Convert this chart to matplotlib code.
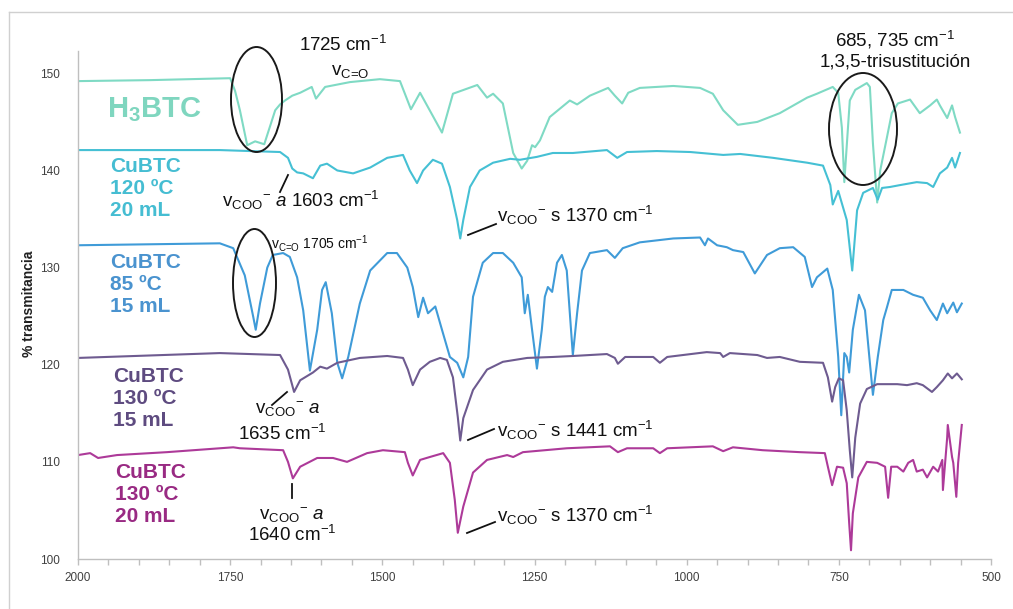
import matplotlib
matplotlib.use("Agg")
import matplotlib.pyplot as plt
from matplotlib.patches import Ellipse
from matplotlib.lines import Line2D
from matplotlib.ticker import MultipleLocator

plt.rcParams['font.family'] = ['Liberation Sans', 'DejaVu Sans']
plt.rcParams['mathtext.fontset'] = 'custom'
plt.rcParams['mathtext.rm'] = 'Liberation Sans'
plt.rcParams['mathtext.it'] = 'Liberation Sans:italic'
plt.rcParams['mathtext.bf'] = 'Liberation Sans:bold'

# ---------------- data (wavenumber cm-1, % transmittance, offset as plotted) -------------
h3btc_wn = [2000, 1882, 1750, 1742, 1734, 1722, 1709, 1694, 1676, 1668, 1660, 1648, 1635, 1616, 1609,
            1594, 1553, 1504, 1471, 1453, 1438, 1402, 1384, 1344, 1328, 1318, 1302, 1285, 1271, 1262,
            1254, 1249, 1241, 1225, 1192, 1180, 1159, 1129, 1118, 1106, 1096, 1077, 1022, 978,
            957, 940, 916, 884, 847, 802, 786, 760, 751, 745, 741, 732, 723, 704, 699, 694, 687,
            682, 671, 663, 653, 633, 617, 600, 589, 584, 572, 564, 559, 551]
h3btc_t = [149.2, 149.3, 149.5, 148.2, 146.2, 142.6, 143.0, 142.7, 146.2, 146.8, 147.2, 147.7, 148.0,
           148.6, 147.4, 148.6, 149.1, 149.4, 149.2, 146.3, 148.0, 143.9, 147.9, 148.8, 147.5, 147.9,
           146.9, 141.8, 140.2, 141.0, 142.6, 142.4, 143.1, 145.5, 147.2, 146.8, 147.7, 148.5, 147.7,
           146.9, 148.0, 148.5, 148.7, 148.5, 147.9, 146.2, 144.7, 145.0, 145.9, 147.5, 147.9, 148.6,
           148.0, 144.4, 138.8, 147.2, 148.3, 149.0, 148.6, 142.8, 136.7, 140.0, 143.4, 145.9, 146.9,
           147.3, 145.9, 146.7, 147.3, 146.7, 145.4, 146.7, 145.5, 143.9]

cu120_wn = [2000, 1767, 1668, 1655, 1648, 1640, 1630, 1614, 1602, 1591, 1574, 1548, 1520, 1492, 1466,
            1455, 1443, 1433, 1417, 1402, 1389, 1377, 1372, 1367, 1356, 1340, 1318, 1290, 1274, 1246,
            1220, 1187, 1131, 1114, 1098, 1049, 994, 940, 912, 858, 802, 776, 764, 760, 751, 737, 728,
            720, 710, 694, 686, 679, 666, 649, 622, 605, 595, 584, 572, 564, 559, 551]
cu120_t = [142.1, 142.1, 141.9, 141.3, 140.2, 139.8, 139.7, 139.2, 140.5, 140.7, 140.0, 139.7, 140.3,
           141.3, 141.6, 140.0, 138.7, 140.0, 141.1, 140.7, 138.3, 134.9, 133.0, 134.9, 138.3, 140.0,
           140.8, 141.2, 141.1, 141.4, 141.8, 141.8, 142.1, 141.3, 141.9, 142.0, 141.9, 141.6, 141.7,
           141.3, 140.8, 140.5, 138.5, 136.5, 137.9, 134.9, 129.7, 135.9, 137.7, 138.2, 137.0, 138.2,
           138.3, 138.5, 138.8, 138.7, 138.3, 139.7, 140.3, 141.3, 140.3, 141.8]

cu85_wn = [2000, 1767, 1745, 1726, 1712, 1708, 1701, 1689, 1680, 1663, 1652, 1640, 1630, 1619, 1607,
           1599, 1593, 1583, 1574, 1566, 1556, 1537, 1520, 1492, 1476, 1459, 1450, 1441, 1433, 1425,
           1413, 1402, 1389, 1377, 1367, 1359, 1351, 1335, 1318, 1302, 1285, 1271, 1266, 1261, 1254,
           1246, 1238, 1233, 1228, 1221, 1213, 1205, 1197, 1190, 1187, 1180, 1172, 1159, 1131, 1118,
           1105, 1077, 1022, 978, 970, 965, 950, 934, 924, 907, 888, 868, 847, 825, 806, 794, 786, 769,
           760, 751, 746, 741, 737, 733, 727, 717, 707, 699, 694, 686, 677, 671, 663, 644, 628, 612,
           600, 589, 579, 572, 562, 556, 548]
cu85_t = [132.3, 132.5, 132.0, 129.2, 124.9, 123.6, 126.3, 130.0, 131.3, 131.5, 131.1, 129.0, 125.6,
          119.4, 123.6, 127.7, 128.5, 125.3, 120.2, 118.6, 120.8, 126.3, 129.7, 131.5, 131.5, 130.0,
          128.0, 124.9, 126.9, 125.3, 126.0, 123.6, 120.8, 120.2, 118.7, 120.8, 127.0, 130.5, 131.5,
          131.5, 130.5, 129.0, 125.3, 127.2, 123.6, 119.6, 123.6, 127.0, 128.0, 127.5, 130.5, 131.3,
          129.7, 123.6, 121.0, 125.3, 129.7, 131.5, 131.8, 131.0, 132.0, 132.6, 133.0, 133.1, 132.3,
          133.0, 132.3, 132.1, 131.8, 131.6, 129.4, 131.3, 132.0, 132.1, 131.1, 128.0, 129.0, 129.9,
          127.7, 120.8, 114.8, 121.2, 120.8, 119.2, 123.6, 127.2, 125.6, 120.2, 116.9, 120.8, 124.6,
          125.9, 127.7, 127.7, 127.2, 126.9, 125.6, 124.6, 126.3, 125.3, 126.4, 125.4, 126.3]

cu130a_wn = [2000, 1767, 1668, 1655, 1645, 1635, 1614, 1602, 1591, 1574, 1537, 1492, 1466, 1458, 1450,
             1438, 1422, 1405, 1394, 1384, 1376, 1372, 1367, 1351, 1328, 1302, 1262, 1220, 1187, 1131,
             1118, 1113, 1101, 1055, 1044, 1032, 967, 945, 940, 929, 884, 868, 847, 814, 776, 768, 761,
             756, 750, 743, 737, 732, 728, 723, 715, 704, 687, 654, 638, 622, 612, 597, 589, 579, 571,
             564, 556, 548]
cu130a_t = [120.7, 121.2, 121.0, 119.5, 117.2, 118.4, 119.2, 119.8, 119.6, 120.2, 120.7, 120.9, 120.7,
            119.5, 117.9, 119.5, 120.3, 120.7, 120.5, 118.7, 114.6, 112.2, 114.5, 117.4, 119.5, 120.3,
            120.7, 120.8, 120.9, 121.1, 120.7, 120.1, 120.8, 120.8, 120.2, 120.8, 121.3, 121.2, 120.8,
            121.2, 121.0, 120.7, 120.8, 120.3, 120.2, 118.7, 116.2, 117.7, 118.6, 118.4, 115.3, 111.2,
            108.4, 112.5, 116.0, 117.5, 118.0, 118.0, 117.9, 118.1, 117.9, 117.2, 117.7, 118.4, 119.1,
            118.6, 119.1, 118.5]

cu130b_wn = [2000, 1980, 1967, 1936, 1854, 1745, 1734, 1663, 1655, 1647, 1635, 1607, 1581, 1558, 1525,
             1499, 1463, 1458, 1450, 1438, 1422, 1400, 1389, 1381, 1376, 1367, 1351, 1328, 1295, 1285,
             1269, 1197, 1126, 1113, 1098, 1055, 1044, 1032, 957, 940, 924, 875, 814, 773, 768, 761, 753,
             743, 737, 733, 730, 727, 718, 704, 687, 674, 669, 664, 654, 644, 636, 628, 622, 612, 605,
             595, 587, 580, 579, 572, 571, 564, 562, 557, 554, 548]
cu130b_t = [110.7, 110.9, 110.4, 110.7, 111.0, 111.5, 111.4, 111.2, 110.0, 108.3, 109.5, 110.4, 110.4,
            110.0, 110.9, 111.2, 111.0, 109.9, 108.6, 110.2, 110.5, 110.9, 109.9, 106.1, 102.7, 105.4,
            108.9, 110.2, 110.7, 110.5, 111.0, 111.4, 111.6, 111.0, 111.4, 111.4, 110.9, 111.4, 111.6,
            111.1, 111.5, 111.2, 111.0, 110.9, 109.5, 107.6, 109.5, 109.4, 107.8, 103.7, 100.9, 104.7,
            108.4, 110.0, 109.9, 109.5, 106.3, 109.5, 109.5, 109.0, 109.9, 110.2, 109.0, 109.2, 108.4,
            109.5, 109.0, 110.2, 107.1, 112.5, 113.8, 110.5, 109.9, 106.4, 109.9, 113.8]

series = [
    (h3btc_wn, h3btc_t, '#7fdac4'),
    (cu120_wn, cu120_t, '#45c0d4'),
    (cu85_wn, cu85_t, '#3f9bd8'),
    (cu130a_wn, cu130a_t, '#6e5b90'),
    (cu130b_wn, cu130b_t, '#ad3a99'),
]

x_major = [2000, 1750, 1500, 1250, 1000, 750, 500]
y_ticks = [100, 110, 120, 130, 140, 150]

W, H = 1013, 609
fig = plt.figure(figsize=(W / 100, H / 100), dpi=100)


def P(px, py):
    return (px / W, 1 - py / H)


# outer light-grey frame
fig.add_artist(Line2D([9 / W, 1.0], [1 - 12 / H] * 2, color='#d0d0d0', lw=1.0))
fig.add_artist(Line2D([9 / W] * 2, [0, 1 - 12 / H], color='#d0d0d0', lw=1.0))

ax = fig.add_axes([78 / W, 1 - 559 / H, (991 - 78) / W, (559 - 51) / H])
for wn, t, c in series:
    ax.plot(wn, t, color=c, lw=1.5, solid_joinstyle='round')

ax.set_xlim(2000, 500)
ax.set_ylim(100, 152.3)
ax.set_xticks(x_major)
ax.xaxis.set_minor_locator(MultipleLocator(50))
ax.set_yticks(y_ticks)
for s in ['top', 'right']:
    ax.spines[s].set_visible(False)
for s in ['left', 'bottom']:
    ax.spines[s].set_color('#bfbfbf')
    ax.spines[s].set_linewidth(1.0)
ax.tick_params(axis='x', which='both', direction='out', length=4.5, width=1.0, color='#bfbfbf',
               labelsize=8.5, labelcolor='#404040', pad=5)
ax.tick_params(axis='y', length=0, labelsize=8.5, labelcolor='#404040', pad=13)

fig.text(*P(29, 304), '% transmitancia', rotation=90, ha='center', va='center',
         fontsize=10, fontweight='bold', color='#202020')

# sample labels
lab_kw = dict(fontweight='bold', ha='left', va='center', linespacing=1.2)
fig.text(*P(107, 110), r'H$_{\mathbf{3}}$BTC', fontsize=21, color='#7fd6bf', **lab_kw)
fig.text(*P(110, 189), 'CuBTC\n120 ºC\n20 mL', fontsize=15, color='#45bdd2', **lab_kw)
fig.text(*P(110, 284), 'CuBTC\n85 ºC\n15 mL', fontsize=15, color='#4a93cf', **lab_kw)
fig.text(*P(113, 398), 'CuBTC\n130 ºC\n15 mL', fontsize=15, color='#5e4b80', **lab_kw)
fig.text(*P(115, 495), 'CuBTC\n130 ºC\n20 mL', fontsize=15, color='#992a83', **lab_kw)

# annotations
VCO = r'v$_{\text{C=O}}$'
VCOO = r'v$_{\text{COO}}$$^{-}$'
an = dict(fontsize=13.5, color='#111111', ha='center', va='center')
left = dict(fontsize=13.5, color='#111111', ha='left', va='center')
fig.text(*P(343, 45), '1725 cm$^{-1}$', **an)
fig.text(*P(350, 71), VCO, **an)
fig.text(*P(895, 40), '685, 735 cm$^{-1}$', **an)
fig.text(*P(895, 62), '1,3,5-trisustitución', **an)
fig.text(*P(222, 200), VCOO + r' $a$ 1603 cm$^{-1}$', **left)
fig.text(*P(271, 243), VCO + r' 1705 cm$^{-1}$', fontsize=10, color='#111111', ha='left', va='center')
fig.text(*P(497, 215), VCOO + r' s 1370 cm$^{-1}$', **left)
fig.text(*P(288, 410), VCOO + r' $a$', **an)
fig.text(*P(282, 434), '1635 cm$^{-1}$', **an)
fig.text(*P(497, 430), VCOO + r' s 1441 cm$^{-1}$', **left)
fig.text(*P(292, 516), VCOO + r' $a$', **an)
fig.text(*P(292, 535), '1640 cm$^{-1}$', **an)
fig.text(*P(497, 515), VCOO + r' s 1370 cm$^{-1}$', **left)

# leader lines
segs = [((288, 175), (280, 192)), ((468, 235), (496, 224)), ((287, 392), (272, 405)),
        ((468, 440), (494, 429)), ((292, 484), (292, 498)), ((467, 533), (495, 522))]
for a, b in segs:
    fig.add_artist(Line2D([a[0] / W, b[0] / W], [1 - a[1] / H, 1 - b[1] / H], color='#111111', lw=1.3))

# ellipses
for cx, cy, w, h in [(256.5, 99.5, 51, 105), (863, 129, 68, 112), (254.5, 283, 43, 108)]:
    fig.add_artist(Ellipse(P(cx, cy), w / W, h / H, fill=False, edgecolor='#1a1a1a', lw=1.4,
                           transform=fig.transFigure))

fig.savefig('out.png', dpi=100)
